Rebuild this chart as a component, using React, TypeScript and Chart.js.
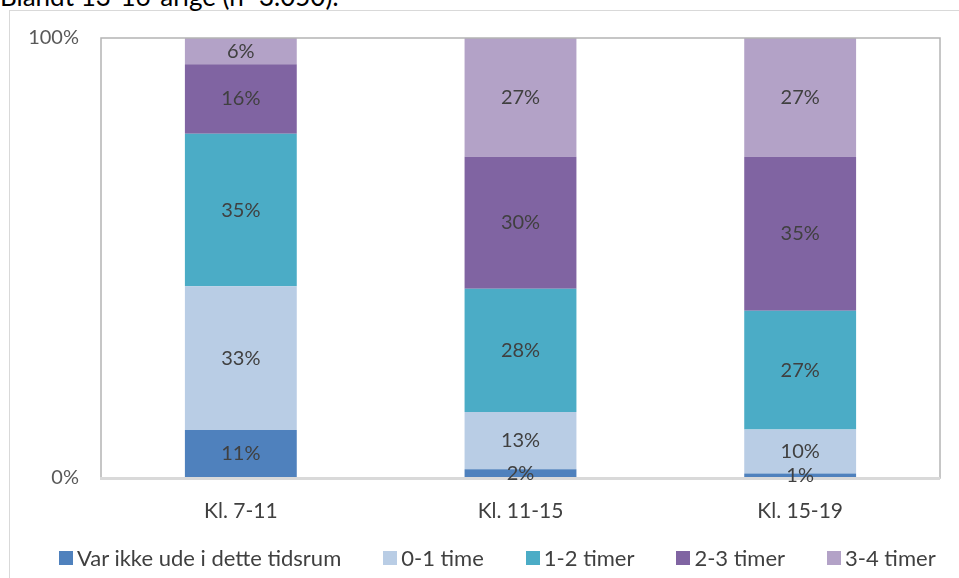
import React, { useEffect, useRef } from "react";
import { Chart, registerables } from "chart.js";

Chart.register(...registerables);

const categories = ["Kl. 7-11", "Kl. 11-15", "Kl. 15-19"];
const seriesNames = ["Var ikke ude i dette tidsrum", "0-1 time", "1-2 timer", "2-3 timer", "3-4 timer"];
const varIkkeUde = [11, 2, 1];
const time01 = [33, 13, 10];
const timer12 = [35, 28, 27];
const timer23 = [16, 30, 35];
const timer34 = [6, 27, 27];
const seriesColors = ["#4f81bd", "#b9cde5", "#4bacc6", "#8064a2", "#b3a2c7"];
const yTicks = [0, 100];
const titleText = "Blandt 13-16-årige (n=3.050):";

const FONT = "Lato, 'Open Sans', sans-serif";

export default function App() {
  const ref = useRef<HTMLCanvasElement>(null);
  useEffect(() => {
    const series = [varIkkeUde, time01, timer12, timer23, timer34];
    const sums = categories.map((_, i) => series.reduce((a, s) => a + s[i], 0));
    const datasets = series.map((s, k) => ({
      label: seriesNames[k],
      data: s.map((v, i) => (v / sums[i]) * 100),
      raw: s,
      backgroundColor: seriesColors[k],
      borderWidth: 0,
      categoryPercentage: 1,
      barPercentage: 0.4,
    }));

    const framePlugin = {
      id: "frame",
      afterDraw(chart: any) {
        const { ctx, chartArea: a } = chart;
        ctx.save();
        ctx.strokeStyle = "#b4b4b4";
        ctx.lineWidth = 1.5;
        ctx.strokeRect(a.left, a.top, a.right - a.left, a.bottom - a.top);
        ctx.strokeStyle = "#d9d9d9";
        ctx.lineWidth = 3;
        ctx.beginPath();
        ctx.moveTo(a.left - 1, a.bottom + 0.5);
        ctx.lineTo(a.right, a.bottom + 0.5);
        ctx.stroke();
        // data labels
        ctx.fillStyle = "#404040";
        ctx.font = "20px " + FONT;
        ctx.textAlign = "center";
        ctx.textBaseline = "middle";
        chart.data.datasets.forEach((ds: any, di: number) => {
          const meta = chart.getDatasetMeta(di);
          meta.data.forEach((el: any, i: number) => {
            const y = (el.y + el.base) / 2;
            ctx.fillText(ds.raw[i] + "%", el.x, y);
          });
        });
        ctx.restore();
      },
    };

    const chart = new Chart(ref.current!, {
      type: "bar",
      data: { labels: categories, datasets: datasets as any },
      options: {
        animation: false,
        responsive: false,
        maintainAspectRatio: false,
        layout: { padding: { top: 38, right: 19, left: 0, bottom: 50 } },
        plugins: { legend: { display: false }, tooltip: { enabled: false } },
        scales: {
          x: {
            stacked: true,
            grid: { display: false, drawTicks: false },
            border: { display: false },
            ticks: { color: "#404040", font: { family: FONT, size: 21 }, padding: 21 },
            afterFit: (s: any) => {
              s.height = 50;
            },
          },
          y: {
            stacked: true,
            min: 0,
            max: 100,
            afterBuildTicks: (s: any) => {
              s.ticks = yTicks.map((v) => ({ value: v }));
            },
            grid: { display: false, drawTicks: false },
            border: { display: false },
            ticks: {
              color: "#595959",
              font: { family: FONT, size: 20 },
              padding: 22,
              callback: (v: any) => v + "%",
            },
            afterFit: (s: any) => {
              s.width = 101;
            },
          },
        },
      },
      plugins: [framePlugin],
    });
    return () => chart.destroy();
  }, []);

  return (
    <div style={{ position: "absolute", left: 0, top: 0, width: 959, height: 578, overflow: "hidden", background: "#fff" }}>
      <div
        style={{
          position: "absolute",
          left: 9,
          top: 10,
          width: 1000,
          height: 1000,
          borderLeft: "1px solid #d9d9d9",
          borderTop: "1px solid #d9d9d9",
        }}
      />
      <div
        style={{
          position: "absolute",
          left: 0,
          top: -17,
          fontFamily: FONT,
          fontSize: 26,
          lineHeight: "26px",
          color: "#000",
          whiteSpace: "nowrap",
        }}
      >
        {titleText}
      </div>
      <canvas ref={ref} width={959} height={578} style={{ position: "absolute", left: 0, top: 0 }} />
      <div
        style={{
          position: "absolute",
          left: 59,
          top: 544,
          height: 27,
          display: "flex",
          fontFamily: FONT,
          fontSize: 22,
          lineHeight: "27px",
          color: "#404040",
          whiteSpace: "nowrap",
        }}
      >
        {seriesNames.map((n, k) => (
          <div key={n} style={{ display: "flex", alignItems: "center", marginLeft: k === 0 ? 0 : 42 }}>
            <span style={{ display: "inline-block", width: 14, height: 14, background: seriesColors[k], marginRight: 4 }} />
            <span>{n}</span>
          </div>
        ))}
      </div>
    </div>
  );
}
